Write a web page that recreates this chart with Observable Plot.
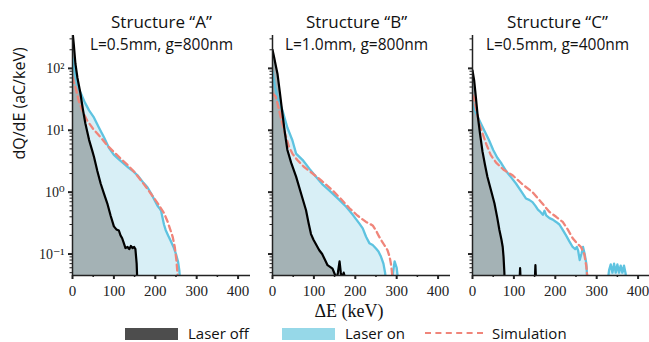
<!DOCTYPE html>
<html>
<head>
<meta charset="utf-8">
<script src="https://cdn.jsdelivr.net/npm/d3@7"></script>
<script src="https://cdn.jsdelivr.net/npm/@observablehq/plot@0.6"></script>
<style>
  html, body { margin: 0; padding: 0; background: #fff; overflow: hidden; }
  #chart { position: relative; width: 649px; height: 342px; overflow: hidden; }
  #chart svg { position: absolute; top: 0; }
  .lbl { position: absolute; white-space: nowrap; color: #111; }
</style>
</head>
<body>
<div id="chart"></div>
<script>
// ---------- data (ΔE in keV, dQ/dE in aC/keV) ----------
const titles = ["Structure \u201CA\u201D", "Structure \u201CB\u201D", "Structure \u201CC\u201D"];
const subtitles = ["L=0.5mm, g=800nm", "L=1.0mm, g=800nm", "L=0.5mm, g=400nm"];
const seriesNames = ["Laser off", "Laser on", "Simulation"];
const xTicks = [0, 100, 200, 300, 400];
const xMinorTicks = [50, 150, 250, 350];
const yTicks = [0.1, 1, 10, 100];
const yTickLabels = ["10\u207B\u00B9", "10\u2070", "10\u00B9", "10\u00B2"];

// Structure A
const aOffE = [0, 3, 7, 12, 19, 25, 31, 40, 48, 52, 60, 68, 76, 84, 92, 100, 106, 112, 116, 120, 124, 128, 133, 137, 141, 145, 149, 152, 155, 157];
const aOffQ = [400, 250, 120, 70, 40, 22, 13, 7, 4.6, 3.7, 2.2, 1.38, 0.95, 0.66, 0.42, 0.28, 0.25, 0.24, 0.2, 0.18, 0.15, 0.125, 0.13, 0.12, 0.135, 0.125, 0.13, 0.12, 0.07, 0.03];
const aOnE = [0, 4, 8, 11, 16, 23, 30, 40, 52, 64, 76, 88, 100, 112, 124, 135, 146, 157, 165, 172, 181, 190, 198, 205, 210, 214, 217, 221, 225, 231, 238, 244, 250, 255, 258, 261];
const aOnQ = [145, 100, 70, 57, 45, 36, 28, 21, 16, 11, 7.7, 5.2, 4.0, 3.4, 2.9, 2.5, 2.2, 1.87, 1.6, 1.4, 1.2, 0.95, 0.75, 0.61, 0.55, 0.5, 0.4, 0.3, 0.245, 0.2, 0.16, 0.13, 0.1, 0.075, 0.055, 0.03];
const aSimE = [0, 3, 7, 15, 25, 35, 50, 68, 85, 104, 116, 133, 150, 165, 178, 189, 200, 210, 221, 230, 237, 242, 247, 251, 254, 256];
const aSimQ = [72, 60, 50, 30, 20, 14.5, 10.5, 7.7, 5.6, 4.2, 3.5, 2.75, 2.1, 1.56, 1.2, 0.95, 0.75, 0.6, 0.46, 0.33, 0.24, 0.19, 0.13, 0.08, 0.045, 0.03];

// Structure B
const bOffE = [0, 4, 8, 12, 18, 24, 30, 36, 45, 57, 69, 81, 87, 93, 99, 106, 113, 120, 127, 133, 139, 145, 150, 155, 158, 162, 165, 168, 172, 176, 178];
const bOffQ = [200, 150, 110, 82, 40, 18.6, 9, 4.8, 3.0, 1.78, 0.95, 0.51, 0.32, 0.21, 0.17, 0.14, 0.115, 0.1, 0.08, 0.066, 0.062, 0.058, 0.048, 0.04, 0.05, 0.076, 0.05, 0.04, 0.05, 0.04, 0.03];
const bOnE = [0, 6, 12, 18, 24, 36, 48, 57, 73, 89, 105, 120, 137, 157, 178, 194, 210, 218, 226, 234, 242, 250, 256, 262, 268, 272, 275, 287, 291, 295, 300, 305];
const bOnQ = [90, 50, 35, 27, 21, 11, 6.9, 4.2, 3.3, 2.4, 1.78, 1.35, 1.07, 0.8, 0.58, 0.43, 0.31, 0.26, 0.19, 0.15, 0.14, 0.123, 0.11, 0.091, 0.07, 0.05, 0.03, 0.03, 0.05, 0.076, 0.06, 0.03];
const bSimE = [0, 4, 8, 14, 20, 30, 40, 48, 60, 75, 97, 120, 145, 165, 186, 205, 226, 234, 242, 250, 256, 262, 270, 278, 283, 286, 288, 290, 292];
const bSimQ = [39, 37, 35, 24, 16, 9, 5.4, 4.2, 3.3, 2.6, 2.0, 1.5, 1.07, 0.78, 0.55, 0.42, 0.33, 0.31, 0.29, 0.24, 0.2, 0.17, 0.14, 0.115, 0.09, 0.07, 0.055, 0.04, 0.03];

// Structure C
const cOffE = [0, 4, 8, 12, 18, 24, 30, 36, 45, 53, 60, 65, 70, 73, 75, 77, 78, 113, 115, 117, 150, 152, 154, 160];
const cOffQ = [93, 64, 35, 18.6, 9, 4.6, 2.8, 1.78, 1.05, 0.66, 0.38, 0.245, 0.17, 0.13, 0.09, 0.05, 0.03, 0.03, 0.059, 0.03, 0.03, 0.066, 0.03, 0.03];
const cOnE = [0, 4, 10, 20, 30, 40, 50, 60, 70, 81, 93, 105, 117, 129, 137, 145, 152, 158, 164, 170, 174, 178, 186, 194, 202, 210, 218, 226, 234, 242, 248, 252, 255, 259, 263, 267, 271, 275, 277, 278, 325, 330, 334, 338, 342, 346, 350, 354, 358, 362, 366, 370, 372];
const cOnQ = [26, 22, 18, 13, 9.5, 6.9, 4.8, 3.6, 2.9, 2.2, 1.75, 1.38, 1.05, 0.79, 0.75, 0.69, 0.6, 0.52, 0.48, 0.43, 0.5, 0.42, 0.38, 0.36, 0.33, 0.3, 0.245, 0.2, 0.16, 0.13, 0.12, 0.13, 0.115, 0.08, 0.1, 0.13, 0.1, 0.07, 0.04, 0.03, 0.03, 0.055, 0.068, 0.05, 0.07, 0.05, 0.068, 0.05, 0.065, 0.05, 0.065, 0.048, 0.03];
const cSimE = [0, 4, 10, 16, 24, 34, 44, 57, 75, 97, 120, 145, 165, 186, 202, 218, 230, 242, 252, 262, 270, 275, 277, 279];
const cSimQ = [37, 33, 20, 13, 9, 5.8, 4.0, 3.0, 2.3, 1.87, 1.35, 1.0, 0.7, 0.48, 0.4, 0.33, 0.25, 0.18, 0.15, 0.13, 0.1, 0.063, 0.045, 0.03];

// ---------- styling ----------
const colOffFill = "#a4b2b5";
const colOffLegend = "#4d4d4d";
const colOnFill = "#d8eff6";
const colOnLine = "#5ec3e0";
const colOnLegend = "#96d8e8";
const colSim = "#f0857a";
const sans = "'Open Sans', 'Noto Sans', sans-serif";
const serif = "'Liberation Serif', 'DejaVu Serif', serif";
const yMin = 0.045, yMax = 340;

const zip = (E, Q) => E.map((e, i) => ({e, q: Q[i]}));
const panels = [
  {off: zip(aOffE, aOffQ), on: zip(aOnE, aOnQ), sim: zip(aSimE, aSimQ), left: 0, tdx: 0},
  {off: zip(bOffE, bOffQ), on: zip(bOnE, bOnQ), sim: zip(bSimE, bSimQ), left: 200, tdx: -5},
  {off: zip(cOffE, cOffQ), on: zip(cOnE, cOnQ), sim: zip(cSimE, cSimQ), left: 400, tdx: -4}
];
const yMinor = [];
for (const p of [0.01, 0.1, 1, 10, 100]) for (let d = 2; d <= 9; d++) { const v = d * p; if (v >= yMin && v <= yMax) yMinor.push(v); }

const chart = document.getElementById("chart");
panels.forEach((p, i) => {
  const first = i === 0;
  const svg = Plot.plot({
    width: 250, height: 300,
    marginLeft: 72, marginRight: 0, marginTop: 35, marginBottom: 25,
    x: {domain: [0, 430]},
    y: {type: "log", domain: [yMin, yMax]},
    style: {background: "transparent", overflow: "visible", color: "#222"},
    marks: [
      Plot.areaY(p.on, {x: "e", y1: yMin, y2: "q", fill: colOnFill, clip: true}),
      Plot.areaY(p.off, {x: "e", y1: yMin, y2: "q", fill: colOffFill, clip: true}),
      Plot.line(p.on, {x: "e", y: "q", stroke: colOnLine, strokeWidth: 2.3, clip: true}),
      Plot.line(p.sim, {x: "e", y: "q", stroke: colSim, strokeWidth: 2.3, strokeDasharray: "6,4", clip: true}),
      Plot.line(p.off, {x: "e", y: "q", stroke: "#000", strokeWidth: 2.2, clip: true}),
      Plot.ruleY([yMin], {stroke: "#222", strokeWidth: 1.5}),
      Plot.ruleX([0], {stroke: "#222", strokeWidth: 1.5}),
      Plot.axisX(xTicks, {tickSize: 4, tickPadding: 6, strokeWidth: 2, label: null, fontFamily: serif, fontSize: 15, tickFormat: d => String(d)}),
      Plot.axisX(xMinorTicks, {tickSize: 2, strokeWidth: 1.5, label: null, tickFormat: () => ""}),
      Plot.axisY(yTicks, {tickSize: 4, tickPadding: 4, strokeWidth: 2, label: null, fontFamily: serif, fontSize: 14,
        tickFormat: first ? (d => yTickLabels[yTicks.indexOf(d)]) : (() => "")}),
      Plot.axisY(yMinor, {tickSize: 2.5, strokeWidth: 1, label: null, tickFormat: () => ""}),
      Plot.text([titles[i]], {frameAnchor: "top", dy: -13, dx: p.tdx, lineAnchor: "middle", fontFamily: sans, fontSize: 17, fill: "#111"}),
      Plot.text([subtitles[i]], {frameAnchor: "top", dy: 10, dx: p.tdx, lineAnchor: "middle", fontFamily: sans, fontSize: 15.5, fill: "#111"}),
      first ? Plot.text(["dQ/dE (aC/keV)"], {frameAnchor: "left", dx: -53, dy: 4, rotate: -90, lineAnchor: "middle", fontFamily: sans, fontSize: 16, fill: "#111"}) : null
    ]
  });
  svg.style.left = p.left + "px";
  chart.appendChild(svg);
});

// x-axis label
const xl = document.createElement("div");
xl.className = "lbl";
xl.textContent = "\u0394E (keV)";
xl.style.cssText += `font-family:${serif};font-size:18px;left:349px;top:311px;transform:translate(-50%,-50%);`;
chart.appendChild(xl);

// legend
const legendItems = [
  {name: seriesNames[0], kind: "rect", color: colOffLegend, x: 125, tx: 188},
  {name: seriesNames[1], kind: "rect", color: colOnLegend, x: 282, tx: 345},
  {name: seriesNames[2], kind: "dash", color: colSim, x: 425, tx: 492}
];
legendItems.forEach(it => {
  const sw = document.createElement("div");
  sw.style.position = "absolute";
  if (it.kind === "rect") {
    sw.style.cssText += `left:${it.x}px;top:328px;width:53px;height:12px;background:${it.color};`;
  } else {
    sw.style.cssText += `left:${it.x}px;top:332px;width:58px;height:0;border-top:2px dashed ${it.color};`;
  }
  chart.appendChild(sw);
  const t = document.createElement("div");
  t.className = "lbl";
  t.textContent = it.name;
  t.style.cssText += `font-family:${sans};font-size:15px;left:${it.tx}px;top:333px;transform:translateY(-50%);`;
  chart.appendChild(t);
});
</script>
</body>
</html>
